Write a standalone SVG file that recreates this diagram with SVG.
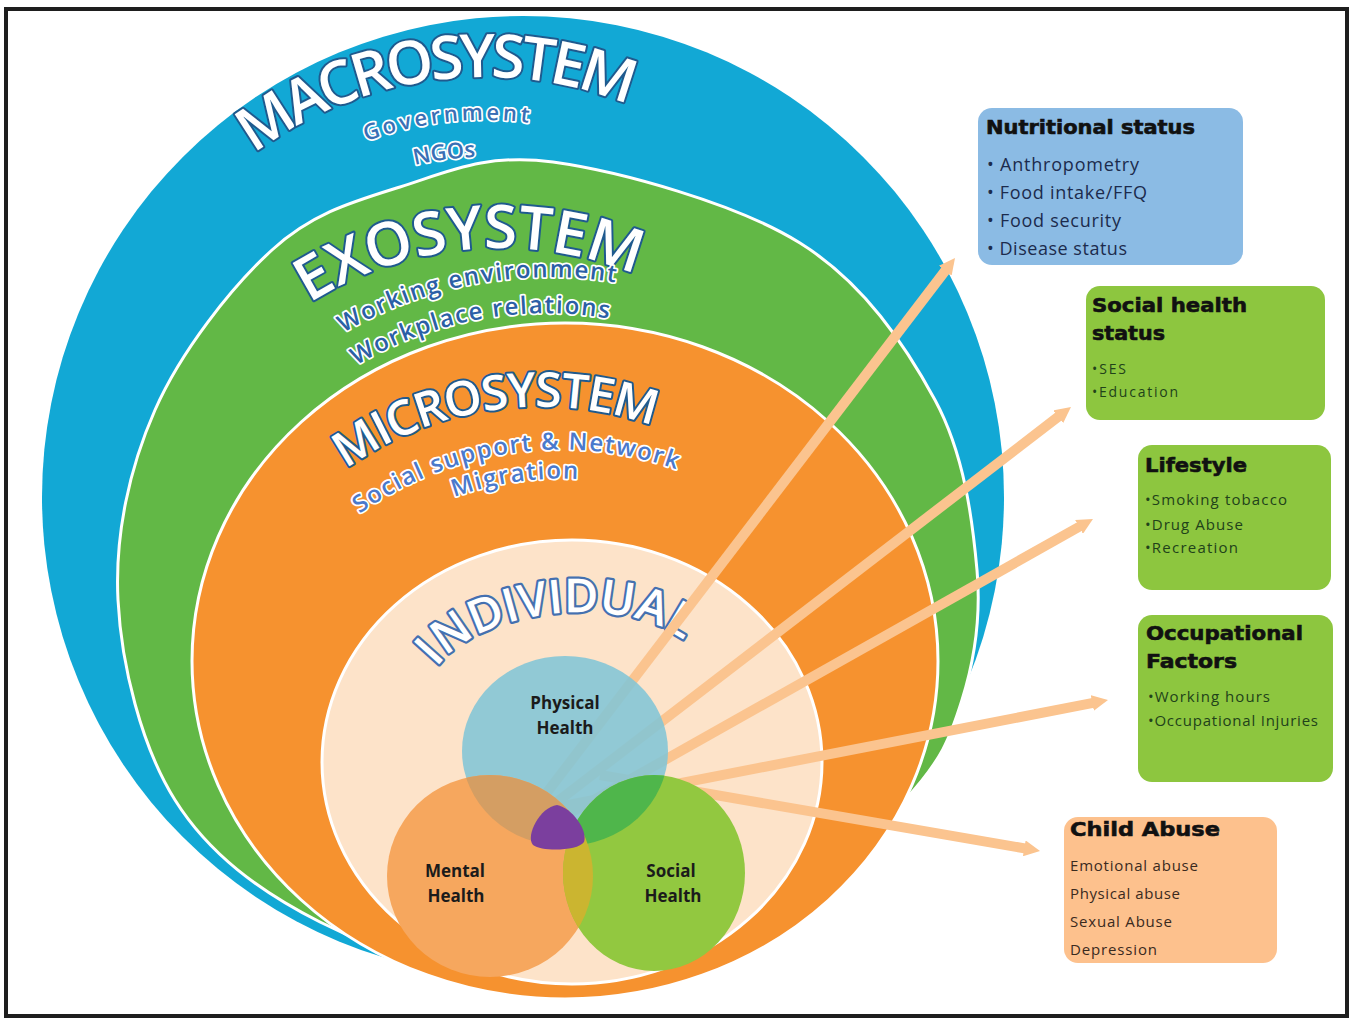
<svg xmlns="http://www.w3.org/2000/svg" xmlns:xlink="http://www.w3.org/1999/xlink" width="1352" height="1019" viewBox="0 0 1352 1019">
<style>
.title{font-family:"Open Sans","Liberation Sans",sans-serif;font-weight:600;fill:#ffffff;stroke:#1f5a8e;stroke-width:4;paint-order:stroke;stroke-linejoin:round}
.sub{font-family:"Open Sans","Liberation Sans",sans-serif;font-weight:600;stroke:#ffffff;stroke-width:3.5;paint-order:stroke;stroke-linejoin:round}
.venn{font-family:"Open Sans","Liberation Sans",sans-serif;font-weight:700;font-size:17px;fill:#1b1b1b;text-anchor:middle}
.bt{font-family:"DejaVu Sans","Liberation Sans",sans-serif;font-weight:700;fill:#111111;stroke:#111111;stroke-width:0.6}
.bi{font-family:"Open Sans","Liberation Sans",sans-serif}
.arrow{fill:none;stroke:#fbc48f;stroke-width:10}
</style>
<defs>
<marker id="head" viewBox="0 0 10 10" refX="3" refY="5" markerWidth="1.6" markerHeight="1.6" orient="auto" markerUnits="strokeWidth">
<path d="M0,0 L10,5 L0,10 z" fill="#fbc48f"/>
</marker>
<path id="pMacro" d="M248,158.6 A385,385 0 0 1 635.4,107.6"/>
<path id="pGov" d="M362.4,142.7 A342,342 0 0 1 532.6,123.3"/>
<path id="pNgo" d="M408.6,166.7 A305,305 0 0 1 481.8,157"/>
<path id="pExo" d="M306.1,305.4 A356,356 0 0 1 639.1,276.3"/>
<path id="pWork" d="M339.1,335.5 A408.5,408.5 0 0 1 620.4,283.4"/>
<path id="pWrel" d="M352,368 A372,372 0 0 1 614,319.4"/>
<path id="pMicro" d="M343.5,470.8 A336,336 0 0 1 655.9,426.9"/>
<path id="pSoc" d="M356.8,515.9 A347,347 0 0 1 679.5,470.5"/>
<path id="pMig" d="M452,497.8 A318,318 0 0 1 580.2,479.2"/>
<path id="pInd" d="M428,682 C462,606 638,586 696,652"/>
<clipPath id="cM"><ellipse cx="490" cy="876" rx="103" ry="101"/></clipPath>
<clipPath id="cS"><ellipse cx="654" cy="873" rx="91" ry="98"/></clipPath>
</defs>
<rect x="0" y="0" width="1352" height="1019" fill="#ffffff"/>

<g id="macrosystem">
<circle cx="523" cy="497" r="481" fill="#12a8d5"/>
<text class="title" font-size="60"><textPath xlink:href="#pMacro" startOffset="50%" text-anchor="middle" textLength="395" lengthAdjust="spacing">MACROSYSTEM</textPath></text>
<text class="sub" font-size="22" fill="#3a6fb5"><textPath xlink:href="#pGov" startOffset="50%" text-anchor="middle" textLength="165">Government</textPath></text>
<text class="sub" font-size="22" fill="#3a6fb5"><textPath xlink:href="#pNgo" startOffset="50%" text-anchor="middle">NGOs</textPath></text>
</g>

<g id="exosystem">
<path d="M553,162 C619.7,171.3 736.3,203.3 800,243 C863.7,282.7 905.5,345.5 935,400 C964.5,454.5 972.5,520 977,570 C981.5,620 974,661.7 962,700 C950,738.3 942,760 905,800 C868,840 800.8,909.2 740,940 C679.2,970.8 610,988 540,985 C470,982 380.8,952.8 320,922 C259.2,891.2 208.7,853.7 175,800 C141.3,746.3 121.3,665 118,600 C114.7,535 129.3,468.3 155,410 C180.7,351.7 231.2,287.2 272,250 C312.8,212.8 353.2,201.7 400,187 C446.8,172.3 486.3,152.7 553,162 Z" fill="#62b846" stroke="#ffffff" stroke-width="3"/>
<text class="title" font-size="60"><textPath xlink:href="#pExo" startOffset="50%" text-anchor="middle" textLength="340" lengthAdjust="spacing">EXOSYSTEM</textPath></text>
<text class="sub" font-size="24" fill="#2b5fa6"><textPath xlink:href="#pWork" startOffset="50%" text-anchor="middle" textLength="282">Working environment</textPath></text>
<text class="sub" font-size="24" fill="#2b5fa6"><textPath xlink:href="#pWrel" startOffset="50%" text-anchor="middle" textLength="262">Workplace relations</textPath></text>
</g>

<g id="microsystem">
<ellipse cx="565" cy="661" rx="373" ry="338" fill="#f6922f" stroke="#ffffff" stroke-width="3"/>
<text class="title" font-size="48"><textPath xlink:href="#pMicro" startOffset="50%" text-anchor="middle" textLength="322" lengthAdjust="spacing">MICROSYSTEM</textPath></text>
<text class="sub" font-size="24" fill="#4a79cc"><textPath xlink:href="#pSoc" startOffset="50%" text-anchor="middle" textLength="332">Social support &amp; Network</textPath></text>
<text class="sub" font-size="24" fill="#4a79cc"><textPath xlink:href="#pMig" startOffset="50%" text-anchor="middle" textLength="126">Migration</textPath></text>
</g>

<g id="individual">
<ellipse cx="572" cy="762" rx="250" ry="222" fill="#fde3c9" stroke="#ffffff" stroke-width="3"/>
<text class="title" font-size="47" style="stroke:#4470b0;stroke-width:4.5"><textPath xlink:href="#pInd" startOffset="50%" text-anchor="middle" textLength="268" lengthAdjust="spacing">INDIVIDUAL</textPath></text>
</g>

<g id="connectors">
<path class="arrow" d="M545,795 L948.2,266.9" marker-end="url(#head)"/>
<path class="arrow" d="M553,805 L1062.1,413.8" marker-end="url(#head)"/>
<path class="arrow" d="M558,820 L1083.2,524.5" marker-end="url(#head)"/>
<path class="arrow" d="M553,808 L1097,702.1" marker-end="url(#head)"/>
<path class="arrow" d="M600,775 L1029,849.1" marker-end="url(#head)"/>
</g>

<g id="physical-health">
<ellipse cx="565" cy="751" rx="103" ry="95" fill="#82c5d6" fill-opacity="0.88"/>
<text class="venn" x="565" y="709">Physical</text>
<text class="venn" x="565" y="734">Health</text>
</g>
<g id="mental-health">
<ellipse cx="490" cy="876" rx="103" ry="101" fill="#f6a75e"/>
<ellipse cx="565" cy="751" rx="103" ry="95" fill="#d49e63" clip-path="url(#cM)"/>
<text class="venn" x="455" y="877">Mental</text>
<text class="venn" x="456" y="902">Health</text>
</g>
<g id="social-health">
<ellipse cx="654" cy="873" rx="91" ry="98" fill="#92c840"/>
<ellipse cx="565" cy="751" rx="103" ry="95" fill="#4fb64b" clip-path="url(#cS)"/>
<ellipse cx="490" cy="876" rx="103" ry="101" fill="#cbb530" clip-path="url(#cS)"/>
<text class="venn" x="671" y="877">Social</text>
<text class="venn" x="673" y="902">Health</text>
</g>
<g id="core">
<path d="M557,805 C572,808 588,830 584,842 C578,851 542,852 533,845 C525,836 540,807 557,805 Z" fill="#7b3f9e"/>
</g>

<g id="nutritional-status">
<rect x="978" y="108" width="265" height="157" rx="14" fill="#8bbbe4"/>
<text class="bt" x="986" y="134" font-size="19" textLength="209" lengthAdjust="spacingAndGlyphs">Nutritional status</text>
<g class="bi" fill="#1c2b4d" font-size="18">
<text x="987" y="171" textLength="152">• Anthropometry</text>
<text x="987" y="199" textLength="160">• Food intake/FFQ</text>
<text x="987" y="227" textLength="134">• Food security</text>
<text x="987" y="255" textLength="140">• Disease status</text>
</g>
</g>

<g id="social-health-status">
<rect x="1086" y="286" width="239" height="134" rx="14" fill="#8dc63f"/>
<text class="bt" x="1092" y="312" font-size="20" textLength="155" lengthAdjust="spacingAndGlyphs">Social health</text>
<text class="bt" x="1092" y="340" font-size="20" textLength="73" lengthAdjust="spacingAndGlyphs">status</text>
<g class="bi" fill="#21421a" font-size="14">
<text x="1092" y="374" textLength="34">•SES</text>
<text x="1092" y="397" textLength="86">•Education</text>
</g>
</g>

<g id="lifestyle">
<rect x="1138" y="445" width="193" height="145" rx="14" fill="#8dc63f"/>
<text class="bt" x="1145" y="472" font-size="20" textLength="102" lengthAdjust="spacingAndGlyphs">Lifestyle</text>
<g class="bi" fill="#21421a" font-size="15">
<text x="1145" y="505" textLength="142">•Smoking tobacco</text>
<text x="1145" y="530" textLength="98">•Drug Abuse</text>
<text x="1145" y="553" textLength="93">•Recreation</text>
</g>
</g>

<g id="occupational-factors">
<rect x="1138" y="615" width="195" height="167" rx="14" fill="#8dc63f"/>
<text class="bt" x="1146" y="640" font-size="20" textLength="157" lengthAdjust="spacingAndGlyphs">Occupational</text>
<text class="bt" x="1146" y="668" font-size="20" textLength="91" lengthAdjust="spacingAndGlyphs">Factors</text>
<g class="bi" fill="#21421a" font-size="15">
<text x="1148" y="702" textLength="122">•Working hours</text>
<text x="1148" y="726" textLength="170">•Occupational Injuries</text>
</g>
</g>

<g id="child-abuse">
<rect x="1064" y="817" width="213" height="146" rx="14" fill="#fdc18d"/>
<text class="bt" x="1070" y="836" font-size="20" textLength="150" lengthAdjust="spacingAndGlyphs">Child Abuse</text>
<g class="bi" fill="#3a2a1e" font-size="15">
<text x="1070" y="871" textLength="128">Emotional abuse</text>
<text x="1070" y="899" textLength="110">Physical abuse</text>
<text x="1070" y="927" textLength="102">Sexual Abuse</text>
<text x="1070" y="955" textLength="87">Depression</text>
</g>
</g>

<rect x="6" y="9" width="1341" height="1007" fill="none" stroke="#1e1e1e" stroke-width="4"/>
</svg>
